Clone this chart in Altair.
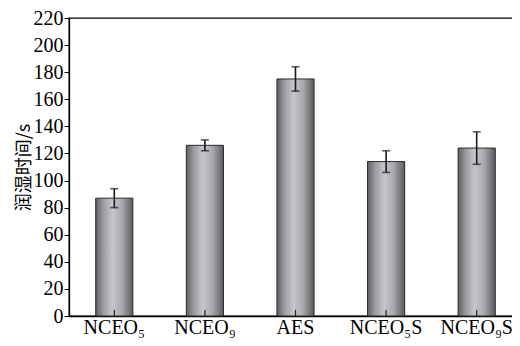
import altair as alt
import pandas as pd

categories = ["NCEO₅", "NCEO₉", "AES", "NCEO₅S", "NCEO₉S"]
values = [87, 126, 175, 114, 124]
errors = [7, 4, 9, 8, 12]
y_ticks = [0, 20, 40, 60, 80, 100, 120, 140, 160, 180, 200, 220]

df = pd.DataFrame({"cat": categories, "val": values, "err": errors})
df["lo"] = df["val"] - df["err"]
df["hi"] = df["val"] + df["err"]
df["zero"] = 0
df["tickTop"] = 4.5

serif = "Liberation Serif"
yscale = alt.Scale(domain=[0, 220], nice=False)
xscale = alt.Scale(paddingInner=0.59, paddingOuter=0.295)

grad = alt.Gradient(
    gradient="linear", x1=0, x2=1, y1=0, y2=0,
    stops=[
        alt.GradientStop(color="#5e5e63", offset=0),
        alt.GradientStop(color="#9a9aa0", offset=0.2),
        alt.GradientStop(color="#c6c6cb", offset=0.45),
        alt.GradientStop(color="#a8a8ad", offset=0.7),
        alt.GradientStop(color="#5a5a5f", offset=1),
    ],
)

xs = alt.X("cat:N", sort=categories, scale=xscale, title=None)
yaxis = alt.Axis(values=y_ticks, labelOverlap=False, labelSeparation=0,
                 labelFlush=False, labelBound=False)
ttl = "润湿时间/s"

bars = alt.Chart(df).mark_bar(fill=grad, stroke="#2a2a2a", strokeWidth=1).encode(
    x=xs,
    y=alt.Y("val:Q", scale=yscale, title=ttl, axis=yaxis),
)

inner_ticks = alt.Chart(df).mark_rule(color="#222", strokeWidth=1.2).encode(
    x=xs,
    y=alt.Y("zero:Q", scale=yscale, title=ttl, axis=yaxis),
    y2="tickTop:Q",
)

err_rule = alt.Chart(df).mark_rule(color="#1a1a1a", strokeWidth=1.6).encode(
    x=xs,
    y=alt.Y("lo:Q", scale=yscale, title=ttl, axis=yaxis),
    y2="hi:Q",
)
cap_lo = alt.Chart(df).mark_tick(orient="horizontal", size=8, thickness=1.6,
                                 color="#1a1a1a").encode(
    x=xs, y=alt.Y("lo:Q", scale=yscale, title=ttl, axis=yaxis))
cap_hi = alt.Chart(df).mark_tick(orient="horizontal", size=8, thickness=1.6,
                                 color="#1a1a1a").encode(
    x=xs, y=alt.Y("hi:Q", scale=yscale, title=ttl, axis=yaxis))

chart = alt.layer(bars, inner_ticks, err_rule, cap_lo, cap_hi).properties(
    width=453, height=298,
    background="white",
    autosize=alt.AutoSizeParams(type="none"),
    padding={"left": 61, "top": 10, "right": -10, "bottom": 22},
).configure_view(
    stroke="black", strokeWidth=1.3
).configure_axis(
    labelFont=serif, labelFontSize=20, labelColor="black",
    labelOverlap=False, labelFlush=False, labelSeparation=0,
    domainColor="black", domainWidth=1.3, grid=False,
    tickColor="black",
    titleFont="Noto Sans CJK SC", titleFontSize=18,
    titleFontWeight="normal", titleColor="black",
).configure_axisX(
    labelAngle=0, ticks=False, labelPadding=1,
).configure_axisY(
    tickSize=5, labelPadding=1, titlePadding=0,
)

chart.save("out.html", embed_options={"renderer": "svg", "actions": False})
